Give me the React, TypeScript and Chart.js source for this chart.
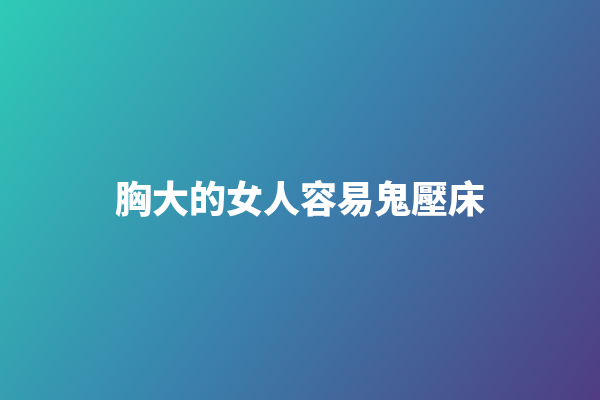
import { Chart, registerables, type ChartConfiguration, type Plugin } from 'chart.js'
import { useEffect, useRef } from 'react'

Chart.register(...registerables)

// no plotted series in this picture, just the headline over a gradient
const headline = ['胸大的女人容易鬼壓床']
const categories: string[] = []
const values: number[] = []

const gradientBackground: Plugin<'bar'> = {
  id: 'gradientBackground',
  beforeDraw(chart) {
    const { ctx, width, height } = chart
    const g = ctx.createLinearGradient(0, 0, width, height)
    g.addColorStop(0, '#2ecbb6')
    g.addColorStop(0.5, '#3a82ae')
    g.addColorStop(1, '#4f3d80')
    ctx.save()
    ctx.fillStyle = g
    ctx.fillRect(0, 0, width, height)
    ctx.restore()
  },
}

const chartConfig: ChartConfiguration<'bar'> = {
  type: 'bar',
  data: {
    labels: categories,
    datasets: [{ data: values }],
  },
  options: {
    responsive: true,
    maintainAspectRatio: false,
    animation: false,
    layout: { padding: 0 },
    plugins: {
      legend: { display: false },
      tooltip: { enabled: false },
      title: {
        display: true,
        text: headline,
        color: '#ffffff',
        font: {
          family: '"Noto Sans CJK TC", "Noto Sans CJK SC", sans-serif',
          size: 37,
          weight: 900,
          lineHeight: 1.2,
        },
        padding: { top: 177, bottom: 0 },
      },
    },
    scales: {
      x: { display: false },
      y: { display: false },
    },
  },
  plugins: [gradientBackground],
}

export default function App() {
  const canvasRef = useRef<HTMLCanvasElement | null>(null)

  useEffect(() => {
    if (!canvasRef.current) {
      return
    }

    const chart = new Chart(canvasRef.current, chartConfig)

    return () => {
      chart.destroy()
    }
  }, [])

  return (
    <div style={{ position: 'fixed', left: 0, top: 0, width: 600, height: 400 }}>
      <canvas ref={canvasRef} aria-label="胸大的女人容易鬼壓床" />
    </div>
  )
}
